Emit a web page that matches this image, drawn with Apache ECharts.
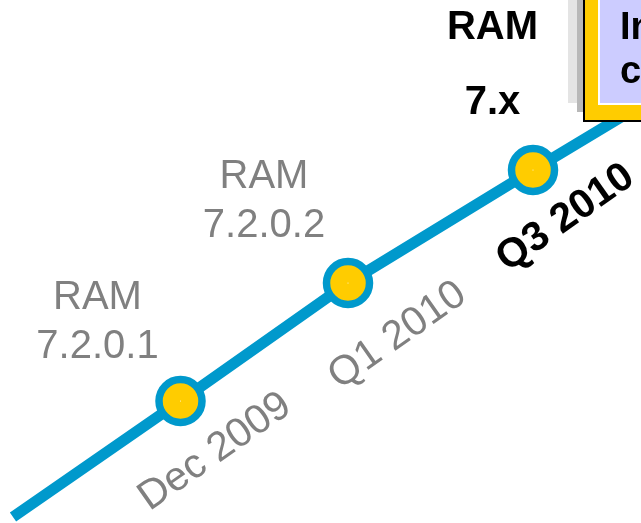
<!DOCTYPE html>
<html><head><meta charset="utf-8">
<script src="https://cdn.jsdelivr.net/npm/echarts@6/dist/echarts.min.js"></script>
<style>html,body{margin:0;padding:0;background:#fff;overflow:hidden}#c{width:641px;height:523px;}</style>
</head><body><div id="c"></div>
<script>
// ---- data ----
const milestoneX = [180.5, 348, 533];
const milestoneY = [401, 283, 170];
const trackX = [13, 180.5, 348, 533, 641];
const trackY = [517, 401, 283, 170, 105];
const releases = ['RAM\n7.2.0.1', 'RAM\n7.2.0.2', 'RAM\n7.x'];
const dates = ['Dec 2009', 'Q1 2010', 'Q3 2010'];
const isCurrent = [false, false, true];
const boxLines = ['In', 'c'];

// ---- layout / style ----
const releaseOffset = [[-83, -79], [-84, -82], [-40.5, -105]];
const dateCenter = [[34.5, 51], [49.5, 52.5], [32.5, 48]];
const ROT = 35;
const FONT = '"Liberation Sans", Arial, sans-serif';
function rotOffset(d) {
  const t = ROT * Math.PI / 180, c = Math.cos(t), s = Math.sin(t);
  return [d[0] * c - d[1] * s, d[0] * s + d[1] * c];
}

const chart = echarts.init(document.getElementById('c'), null, {renderer: 'canvas'});

const releaseData = milestoneX.map((x, i) => ({
  value: [x, milestoneY[i]],
  label: {
    show: true,
    position: 'inside',
    align: 'center',
    verticalAlign: 'middle',
    offset: releaseOffset[i],
    formatter: releases[i],
    fontFamily: FONT,
    fontSize: 40,
    fontWeight: isCurrent[i] ? 'bold' : 'normal',
    color: isCurrent[i] ? '#000000' : '#808080',
    textBorderWidth: 0,
    opacity: 1,
    lineHeight: isCurrent[i] ? 75 : 49
  }
}));

const dateData = milestoneX.map((x, i) => ({
  value: [x, milestoneY[i]],
  label: {
    show: true,
    position: 'inside',
    align: 'center',
    verticalAlign: 'middle',
    rotate: ROT,
    offset: rotOffset(dateCenter[i]),
    formatter: dates[i],
    fontFamily: FONT,
    fontSize: 41,
    fontWeight: isCurrent[i] ? 'bold' : 'normal',
    color: isCurrent[i] ? '#000000' : '#808080',
    textBorderWidth: 0,
    opacity: 1
  }
}));

chart.setOption({
  animation: false,
  backgroundColor: '#ffffff',
  grid: {left: 0, right: 0, top: 0, bottom: 0},
  xAxis: {type: 'value', min: 0, max: 641, show: false},
  yAxis: {type: 'value', min: 0, max: 523, inverse: true, show: false},
  series: [
    {
      type: 'line',
      silent: true,
      z: 2,
      symbol: 'none',
      data: trackX.map((x, i) => [x, trackY[i]]),
      lineStyle: {color: '#0099cc', width: 11, cap: 'butt', join: 'round'}
    },
    {
      type: 'scatter',
      silent: true,
      z: 3,
      symbol: 'circle',
      symbolSize: 43,
      itemStyle: {color: '#ffcc00', borderColor: '#0099cc', borderWidth: 7.5, opacity: 1},
      data: releaseData
    },
    {
      type: 'scatter',
      silent: true,
      z: 4,
      symbolSize: 1,
      itemStyle: {color: '#ffffff', borderWidth: 0, opacity: 1},
      data: dateData
    }
  ],
  graphic: [
    {type: 'rect', z: 10, shape: {x: 568, y: -10, width: 10, height: 113}, style: {fill: '#e4e4e4'}},
    {type: 'rect', z: 10, shape: {x: 577, y: -10, width: 8, height: 122}, style: {fill: '#b8b8b8'}},
    {type: 'rect', z: 11, shape: {x: 583, y: -10, width: 80, height: 132}, style: {fill: '#000000'}},
    {type: 'rect', z: 12, shape: {x: 585, y: -10, width: 80, height: 130}, style: {fill: '#ffcc00'}},
    {type: 'rect', z: 13, shape: {x: 598, y: -10, width: 80, height: 115}, style: {fill: '#ffffff'}},
    {type: 'rect', z: 14, shape: {x: 600, y: -10, width: 80, height: 113}, style: {fill: '#ccccff'}},
    {type: 'text', z: 15, x: 620, y: 29, style: {text: boxLines[0], font: 'bold 38px ' + FONT, fill: '#000000', align: 'left', verticalAlign: 'middle'}},
    {type: 'text', z: 15, x: 620, y: 73, style: {text: boxLines[1], font: 'bold 38px ' + FONT, fill: '#000000', align: 'left', verticalAlign: 'middle'}}
  ]
});
</script>
</body></html>
